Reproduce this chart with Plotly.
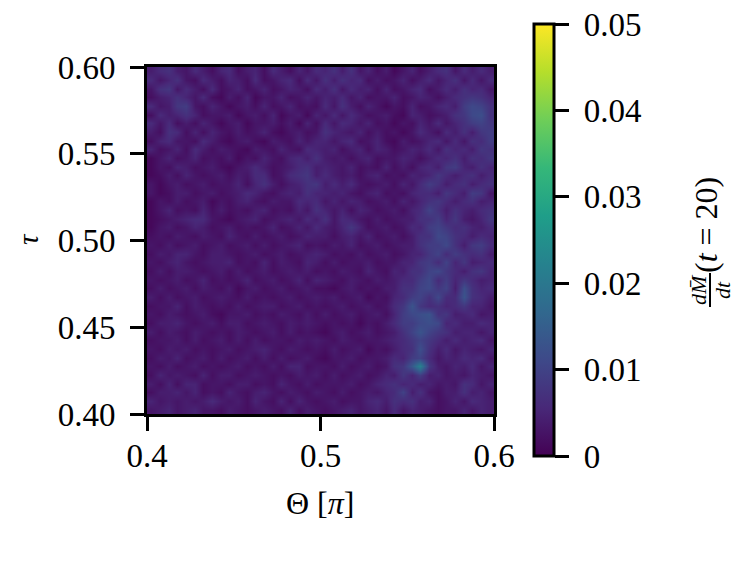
import plotly.graph_objects as go

W, H = 748, 561

theta_ticks = [0.4, 0.5, 0.6]
theta_labels = ["0.4", "0.5", "0.6"]
tau_ticks = [0.40, 0.45, 0.50, 0.55, 0.60]
tau_labels = ["0.40", "0.45", "0.50", "0.55", "0.60"]
cbar_ticks = [0, 0.01, 0.02, 0.03, 0.04, 0.05]
cbar_labels = ["0", "0.01", "0.02", "0.03", "0.04", "0.05"]

# Units of 0.001, top row (tau = 0.60) first
rate_milli_top_down = [
    [4,6,7,4,3,6,4,2,5,6,2,4,5,2,6,4,2,5,3,6,5,7,4,7,3,5,2,4,1,3,5,2,4,6,7,3,6,4,6,4],
    [6,3,5,7,3,2,6,4,2,5,4,2,6,2,3,5,6,2,6,3,7,4,7,5,6,2,4,2,3,5,2,4,6,3,5,7,3,6,3,6],
    [3,7,8,3,6,4,2,6,2,3,5,2,3,5,2,3,5,4,2,6,4,7,3,6,4,5,2,5,2,3,5,6,2,4,6,4,7,5,6,3],
    [2,4,5,7,5,3,6,2,1,4,2,5,1,3,3,5,2,3,5,3,5,4,6,3,5,2,3,3,5,2,3,5,4,2,4,6,7,8,7,5],
    [6,3,4,8,9,3,2,5,3,1,3,4,2,5,2,3,5,2,3,2,6,3,7,4,2,5,3,1,3,2,5,2,3,5,6,4,9,11,10,7],
    [2,6,4,5,7,5,2,3,3,4,1,3,4,2,5,1,3,4,1,5,3,6,3,6,4,2,3,4,2,1,5,4,2,3,4,7,8,11,12,7],
    [6,3,6,2,4,2,5,3,1,3,4,1,3,3,4,2,4,1,5,2,6,3,6,5,3,5,2,3,1,3,2,5,3,6,3,5,7,9,10,8],
    [4,2,7,6,2,5,2,5,3,2,4,2,3,5,2,1,3,4,2,3,7,5,4,3,5,2,4,2,3,1,3,6,4,2,6,4,7,4,8,9],
    [2,5,6,3,3,2,6,4,2,1,3,4,2,1,4,3,2,5,3,5,5,3,5,6,2,3,5,2,1,4,2,3,5,6,3,6,3,7,6,9],
    [5,2,3,5,2,6,4,2,4,3,2,1,4,3,2,5,3,2,6,5,4,5,2,4,5,2,5,4,2,3,5,4,6,3,7,5,6,4,8,7],
    [1,3,5,2,3,5,2,3,2,4,1,3,2,5,3,2,5,6,4,7,4,3,4,2,4,5,2,3,3,5,4,2,4,6,5,7,4,7,6,8],
    [1,3,2,5,4,2,3,4,2,1,3,4,6,4,2,3,4,6,7,4,5,4,3,5,2,3,2,5,2,4,2,5,6,4,8,9,5,4,7,5],
    [1,2,4,2,5,3,2,3,4,2,4,3,6,6,2,3,6,7,8,4,6,4,3,4,2,4,5,2,3,2,5,4,5,8,6,4,6,7,4,6],
    [3,1,3,4,2,3,4,2,3,3,5,2,5,7,4,2,4,5,7,8,4,6,4,6,3,2,3,4,2,5,3,6,9,7,4,6,7,4,6,7],
    [3,1,2,4,4,2,3,4,2,3,4,6,5,3,2,4,5,4,7,5,5,4,5,3,2,4,5,2,3,2,5,6,6,4,8,6,4,9,8,3],
    [1,3,2,4,2,3,4,1,3,2,4,5,3,2,4,3,3,6,5,6,3,5,3,5,4,2,3,4,2,5,3,5,7,8,6,4,6,7,4,5],
    [1,3,5,2,3,2,5,2,4,2,3,2,4,5,2,3,2,5,3,7,5,3,5,2,5,4,2,3,4,2,5,6,10,7,4,7,5,4,6,7],
    [1,2,3,4,5,6,6,3,2,1,3,4,5,2,3,4,5,3,6,4,7,3,6,5,3,2,4,2,3,4,4,7,7,9,5,8,4,3,5,8],
    [1,3,4,2,3,5,4,2,3,4,2,3,2,3,5,2,3,5,3,6,4,3,5,8,5,2,3,4,2,3,6,5,9,10,8,6,7,5,4,6],
    [2,3,2,4,3,2,4,3,2,5,3,2,4,2,3,4,2,3,5,4,4,2,4,5,3,5,2,3,4,2,4,7,7,11,10,7,6,4,6,5],
    [3,2,4,2,3,4,2,3,4,2,3,4,2,4,2,3,4,5,2,3,2,4,3,5,2,3,4,2,3,4,4,7,9,9,11,7,4,8,9,6],
    [2,4,3,5,5,3,2,4,4,3,2,3,4,2,3,4,2,3,4,5,4,2,3,2,4,2,3,4,2,3,5,5,8,10,6,9,7,6,7,4],
    [3,2,4,5,3,2,3,4,4,5,2,3,2,5,2,4,3,2,5,4,2,4,2,3,3,4,2,3,3,5,5,8,9,6,10,5,8,4,5,6],
    [2,4,2,4,4,3,2,3,4,2,4,2,3,4,2,3,4,3,4,2,3,2,4,3,2,5,3,2,5,4,7,7,10,11,8,6,4,7,8,5],
    [3,2,3,4,2,3,5,2,3,2,3,5,2,3,4,2,3,5,2,5,4,3,2,4,3,2,4,3,4,6,6,9,11,6,9,5,8,6,4,5],
    [2,4,2,3,4,2,4,3,2,4,1,3,4,2,3,4,2,3,4,2,2,1,3,4,2,3,2,4,4,7,7,10,11,8,10,4,12,7,5,6],
    [4,2,4,2,3,4,2,3,4,3,2,4,2,3,2,3,4,2,3,4,3,4,2,3,4,1,3,2,5,6,9,10,7,11,6,6,13,7,6,4],
    [2,3,3,5,2,4,3,2,3,2,4,2,3,4,4,2,3,4,2,3,2,3,4,2,3,4,2,3,6,8,13,8,6,7,5,6,8,5,5,3],
    [3,2,4,3,2,3,4,2,1,3,3,4,2,3,2,4,3,2,4,2,4,2,3,4,2,3,4,2,5,9,11,12,13,7,8,4,5,6,3,4],
    [2,4,4,5,3,2,3,4,2,4,4,2,3,4,3,2,4,3,4,3,2,3,2,3,1,3,2,4,6,9,9,11,12,11,5,6,4,4,6,5],
    [4,2,4,3,2,4,3,2,3,2,4,3,2,3,4,2,4,2,3,2,1,3,4,2,3,4,2,3,4,7,10,13,10,8,7,4,5,5,3,5],
    [2,3,3,4,2,4,2,3,4,2,4,2,4,2,3,3,2,4,3,4,3,2,4,3,2,3,3,4,5,6,8,10,8,6,4,6,4,5,6,3],
    [3,2,4,3,4,2,3,2,3,4,2,3,4,5,3,2,4,3,2,3,2,4,2,3,4,1,3,2,4,6,7,12,7,4,6,3,5,4,3,5],
    [2,4,3,5,2,3,4,2,4,2,3,4,2,4,2,4,2,3,4,2,1,3,3,4,2,3,3,4,6,5,9,10,6,3,5,4,6,5,6,3],
    [3,2,4,2,3,4,2,3,2,3,4,2,3,2,4,2,5,5,2,3,3,2,4,2,3,4,2,3,7,8,14,22,8,4,3,5,4,6,3,5],
    [2,5,3,4,3,2,5,2,4,4,2,3,4,3,2,3,2,4,3,4,2,4,2,3,4,2,3,5,4,8,5,9,4,5,3,4,3,5,4,3],
    [4,2,5,2,5,5,2,3,3,2,4,4,2,3,2,5,3,2,4,2,3,3,3,4,2,3,5,6,7,5,6,4,5,3,4,3,7,6,3,5],
    [2,4,4,5,3,5,2,3,2,5,3,2,4,5,3,2,4,3,2,4,3,2,4,2,3,4,3,5,6,10,4,7,3,2,4,4,7,4,5,3],
    [5,3,4,3,4,3,4,6,4,3,4,2,5,3,2,5,2,5,3,2,3,4,2,3,3,5,6,4,7,6,7,4,5,2,3,5,3,6,5,4],
    [3,4,5,3,4,5,3,3,2,4,3,2,3,4,3,2,5,2,4,3,2,3,4,5,3,4,5,3,6,3,5,4,3,2,3,3,5,3,5,4],
]

n = len(rate_milli_top_down)
rate = [[v * 0.001 for v in row] for row in reversed(rate_milli_top_down)]
step = 0.2 / n
theta = [0.4 + step * (i + 0.5) for i in range(n)]
tau = [0.4 + step * (i + 0.5) for i in range(n)]

FONT = "Liberation Serif"
FS = 33
OX, OY = -8, -8  # page body margin

fig = go.Figure(go.Heatmap(
    x=theta, y=tau, z=rate, zmin=0, zmax=0.05001, zsmooth="best",
    colorscale="Viridis", hoverinfo="skip",
    colorbar=dict(
        x=(534 + OX) / W, xanchor="left", xpad=0,
        y=(H - 456 - OY) / H, yanchor="bottom", ypad=0,
        thickness=20, thicknessmode="pixels",
        len=432 / H, lenmode="fraction",
        outlinewidth=3, outlinecolor="black",
        ticks="outside", ticklen=14, tickwidth=3, tickcolor="black",
        tickvals=cbar_ticks, ticktext=["\u00a0" + t for t in cbar_labels],
        ticklabeloverflow="allow",
        tickfont=dict(family=FONT, size=FS, color="black"),
    ),
))

axis = dict(
    showgrid=False, zeroline=False, showline=True, linecolor="black", linewidth=3,
    mirror=True, ticks="outside", ticklen=14, tickwidth=3, tickcolor="black",
    range=[0.4, 0.6], tickfont=dict(family=FONT, size=FS, color="black"),
)
fig.update_layout(
    width=W, height=H, autosize=False,
    paper_bgcolor="white", plot_bgcolor="white",
    margin=dict(l=0, r=0, t=0, b=0, autoexpand=False),
    xaxis=dict(axis, domain=[(147 + OX) / W, (494 + OX) / W],
               tickvals=theta_ticks, ticktext=theta_labels, ticklabelstandoff=-4),
    yaxis=dict(axis, domain=[(H - 414 - OY) / H, (H - 67 - OY) / H],
               tickvals=tau_ticks, ticktext=tau_labels, ticklabelstandoff=8),
    font=dict(family=FONT, color="black"),
)


def label(px, py, text, size=FS, angle=0):
    fig.add_annotation(
        xref="paper", yref="paper", x=(px + OX) / W, y=1 - (py + OY) / H, text=text,
        showarrow=False, xanchor="center", yanchor="middle", textangle=angle,
        font=dict(family=FONT, size=size, color="black"),
    )


label(320, 503, "Θ [<i>π</i>]", 32)
label(28, 239, "<i>τ</i>", 29, -90)
label(706, 225, "(<i>t</i> = 20)", 32, -90)
label(698, 290, "<i>dM̄</i>", 22, -90)
label(722, 290, "<i>dt</i>", 22, -90)
fig.add_shape(type="line", xref="paper", yref="paper",
              x0=(710 + OX) / W, x1=(710 + OX) / W,
              y0=1 - (273 + OY) / H, y1=1 - (307 + OY) / H,
              line=dict(color="black", width=2))

fig.write_html("out.html")
